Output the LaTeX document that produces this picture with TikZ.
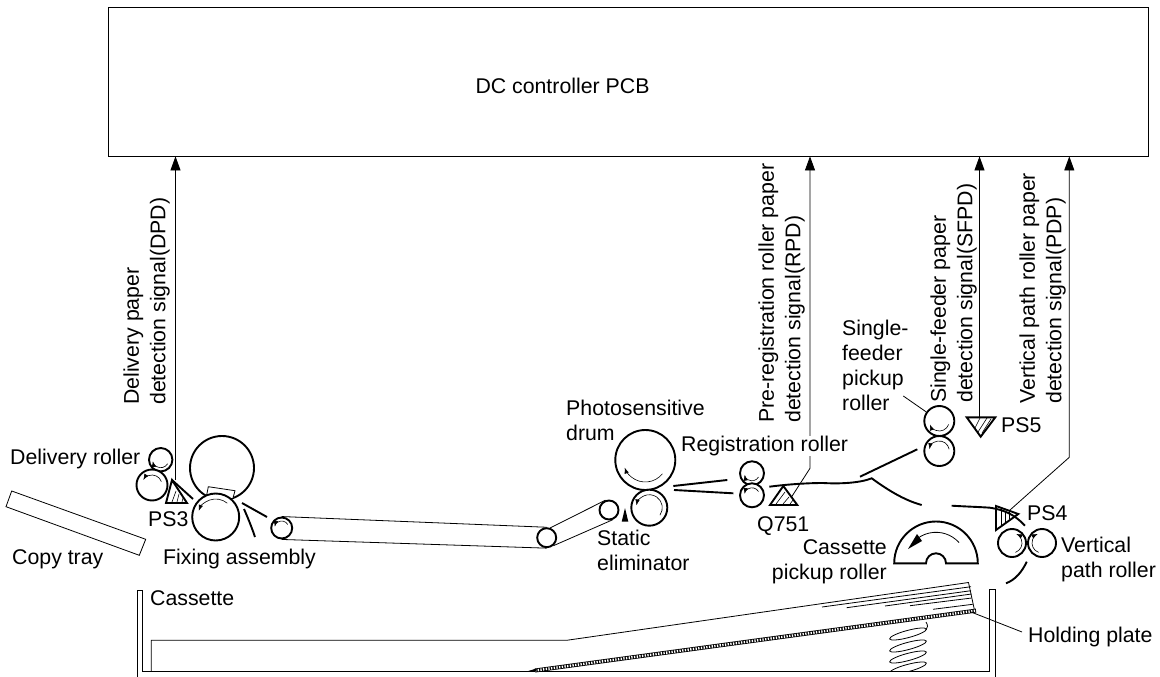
\documentclass[tikz,border=0pt]{standalone}
\usepackage{fontspec}
\setmainfont{Liberation Sans}
\usetikzlibrary{arrows.meta,positioning,calc}
\tikzset{
  rollerc/.style={circle,draw,fill=white,line width=1.9pt,minimum size=#1,inner sep=0pt},
  lbl/.style={inner sep=0pt,align=left,anchor=west},
  siglbl/.style={inner sep=0pt,align=left,rotate=90,anchor=south west},
  sigline/.style={line width=0.8pt},
  sigarrow/.style={sigline,-{Triangle[length=14pt,width=10pt]}},
  guide/.style={line width=1.9pt},
  sensorf/.style={line width=1.9pt,line join=miter},
  hatchl/.style={line width=0.6pt},
  turnarc/.style={line width=0.6pt,-{Latex[length=6pt,width=4.5pt]}},
}
\newcommand{\turn}[4]{\draw[turnarc] ($(#1)+(-#2:#4)$) arc (-#2:-#3:#4);}
\begin{document}
\begin{tikzpicture}[x=1pt,y=-1pt,font=\fontsize{21.3}{25}\selectfont]
  \useasboundingbox (0,0) rectangle (1160,677);
  % controller
  \node[draw,line width=0.8pt,minimum width=1040pt,minimum height=149pt] (dcpcb) at (628,81.5) {};
  \node[inner sep=0pt] (lblpcb) at (562.5,86) {DC controller PCB};

  % signal labels
  \node[siglbl,font=\fontsize{21.3}{26.5}\selectfont] (lbldpd) at (170,405) {Delivery paper\\detection signal(DPD)};
  \node[siglbl,font=\fontsize{21.3}{26.5}\selectfont] (lblrpd) at (805,423) {Pre-registration roller paper\\detection signal(RPD)};
  \node[siglbl,font=\fontsize{21.3}{26.5}\selectfont] (lblsfpd) at (977,403) {Single-feeder paper\\detection signal(SFPD)};
  \node[siglbl,font=\fontsize{21.3}{26.5}\selectfont] (lblpdp) at (1066,404) {Vertical path roller paper\\detection signal(PDP)};

  % copy tray
  \draw[line width=0.8pt] (11.7,491) -- (145.7,539.3) -- (139.3,555.3) -- (6,506.7) -- cycle;
  \node[lbl] (lbltray) at (12,559) {Copy tray};

  % delivery and fixing
  \node[rollerc=23.4pt] (delivu) at (160.7,459.7) {};
  \node[rollerc=31pt] (delivl) at (152,485) {};
  \turn{delivu}{-30}{-170}{8}
  \turn{delivl}{20}{150}{10}
  \node[lbl] (lbldeliv) at (10,459) {Delivery roller};
  \coordinate (ps3tip) at (175.5,480);
  \draw[sensorf] (166,503) -- (187,503) -- (172,480) -- cycle;
  \draw[hatchl] (172,502) -- (176,491) (177,502) -- (179,494) (182,502) -- (183,498);
  \draw[guide] (172,480) -- (193,499);
  \node[lbl] (lblps3) at (148,519) {PS3};
  \node[rollerc=64pt] (fixu) at (222,468) {};
  \draw[line width=0.8pt,fill=white] (206.7,495) -- (208.3,486.7) -- (235,490.7) -- (233,498);
  \node[rollerc=47pt] (fixl) at (215.7,517) {};
  \turn{fixl}{50}{160}{18}
  \draw[guide] (242,503) -- (267,517);
  \draw[guide] (244,509) .. controls (248,518) and (252,528) .. (255,537);
  \node[lbl] (lblfix) at (163,559) {Fixing assembly};

  % transfer belt
  \node[rollerc=21pt] (belta) at (281.7,528) {};
  \node[rollerc=19pt] (beltb) at (546.7,537.7) {};
  \node[rollerc=19pt] (beltc) at (609,510) {};
  \draw[line width=0.8pt] (belta.north) -- (beltb.north) (belta.south) -- (beltb.south);
  \draw[line width=0.8pt] (beltb.70) -- (beltc.110) (beltb.-50) -- (beltc.-70);
  \turn{belta}{30}{170}{7}

  % drum
  \node[rollerc=60pt] (drum) at (645.3,460) {};
  \node[rollerc=36pt] (drumr) at (649.3,507.7) {};
  \turn{drum}{-39}{-160}{22}
  \turn{drumr}{-35}{170}{13}
  \fill (621.7,521.7) -- (628.3,521.7) -- (625,508) -- cycle;
  \node[lbl] (lbldrum) at (566,420) {Photosensitive\\drum};
  \node[lbl] (lblstatic) at (597,550) {Static\\eliminator};

  % registration
  \draw[guide] (673.3,486) -- (727.3,480) (674,490) -- (733.3,493.3);
  \node[rollerc=24pt] (regu) at (752,473.3) {};
  \node[rollerc=24pt] (regl) at (752,495.3) {};
  \turn{regu}{-30}{-170}{7.5}
  \turn{regl}{30}{170}{7.5}
  \coordinate (q751tip) at (791.7,496.7);
  \coordinate (q751bend) at (810,468.3);
  \draw[sigarrow] (q751tip) -- (q751bend) -- (q751bend |- dcpcb.south);
  \node[lbl,fill=white] (lblreg) at (681,446) {Registration roller};
  \draw[sensorf] (770,505) -- (797.3,505) -- (783.3,486) -- cycle;
  \draw[hatchl] (776,504) -- (785,492) (783,504) -- (789,497) (790,504) -- (793,500);
  \node[lbl] (lblq751) at (757,526) {Q751};

  % paper path
  \draw[guide] (769.3,486.7) .. controls (790,484) and (810,483) .. (823,483) .. controls (840,484) and (860,483) .. (871.7,478.3) .. controls (885,488) and (903,500) .. (921.7,505);
  \draw[guide] (860,476.7) -- (917.3,449.3);
  \draw[guide] (951.7,505.7) .. controls (965,506.5) and (980,507) .. (990,507.7) .. controls (1005,510) and (1015,515) .. (1025,525.7);

  % single feeder
  \node[rollerc=30pt] (sfu) at (939.3,421) {};
  \node[rollerc=30pt] (sfl) at (939.3,451) {};
  \turn{sfu}{-20}{-160}{10}
  \turn{sfl}{10}{170}{10}
  \node[lbl] (lblsf) at (842,365) {Single-\\feeder\\pickup\\roller};
  \coordinate (sfleader) at (903.3,396);
  \draw[sigline] (sfleader) -- (sfu);
  \coordinate (ps5tip) at (979.5,417.3);
  \draw[sensorf] (966.7,417.3) -- (995.3,417.3) -- (980.7,436.7) -- cycle;
  \draw[hatchl] (975,428) -- (980,418) (978,432) -- (987,418) (982,433) -- (991,419);
  \node[lbl] (lblps5) at (1001,425) {PS5};

  % vertical path
  \coordinate (ps4tip) at (1010,510);
  \coordinate (ps4bend) at (1069.3,457.3);
  \draw[sigarrow] (ps4tip) -- (ps4bend) -- (ps4bend |- dcpcb.south);
  \draw[sensorf] (996,506) -- (996,530) -- (1018.3,514) -- cycle;
  \draw[hatchl] (1001,509) -- (1001,525) (1005,511) -- (1005,522) (1009,512) -- (1009,519);
  \node[lbl] (lblps4) at (1027,513) {PS4};
  \node[rollerc=28pt] (vertl) at (1012,543) {};
  \node[rollerc=28pt] (vertr) at (1042,543) {};
  \turn{vertl}{-70}{65}{10}
  \turn{vertr}{250}{115}{10}
  \node[lbl] (lblvert) at (1061,559) {Vertical\\path roller};
  \draw[guide] (1026.7,561.7) .. controls (1022,572) and (1015,580) .. (1006,583.3);

  % cassette pickup
  \draw[guide] (894.2,563.3) arc (180:360:41.8) -- (946,563.3) arc (360:180:10) -- cycle;
  \draw[line width=0.8pt] ($(936,563.3)+(-42:31)$) arc (-42:-135:31);
  \fill (908,549) -- (917,534) -- (922,541) -- cycle;
  \node[lbl,align=right,anchor=east] (lblcasspick) at (887,562) {Cassette\\pickup roller};

  % signal lines
  \draw[sigarrow] (ps3tip) -- (ps3tip |- dcpcb.south);
  \draw[sigarrow] (ps5tip) -- (ps5tip |- dcpcb.south);

  % cassette
  \draw[line width=0.8pt] (137.3,677) -- (137.3,590) -- (142.7,590) -- (142.7,671.7) -- (989,671.7) -- (989,589.3) -- (995,589.3) -- (995,677);
  \node[lbl] (lblcass) at (150,598) {Cassette};
  \draw[line width=0.8pt] (151.3,671.7) -- (151.3,640.3) -- (566.7,640.3) -- (968.5,582.5) -- (974.3,609.3);
  \draw[line width=0.8pt] (822,607) -- (971,586.7) (846.7,607.7) -- (971,590.7) (885,606) -- (971.5,594) (910,605.7) -- (971.7,598) (933,609.3) -- (972.7,604.3);
  % plate
  \draw[line width=4pt] (535,670.5) -- (976,610.6);
  \draw[white,line width=2.4pt,dash pattern=on 1.3pt off 1.4pt] (535,670.5) -- (975.4,610.7);
  \fill (526,671.7) -- (536,668.6) -- (536,671.7) -- cycle;
  \node[lbl] (lblplate) at (1028,637) {Holding plate};
  \draw[sigline] (lblplate.west) ++(-6,-5) -- (971,612);
  % spring
  \begin{scope}
    \clip (880,615) rectangle (935,671);
    \foreach \coily in {634,646,657,668}
      \draw[line width=0.8pt,rotate around={15:(908,\coily)}] (908,\coily) ellipse[x radius=19,y radius=3.6];
  \end{scope}
  \draw[line width=0.8pt] (926,630) .. controls (928,628) and (928,625) .. (926,622);
\end{tikzpicture}
\end{document}
